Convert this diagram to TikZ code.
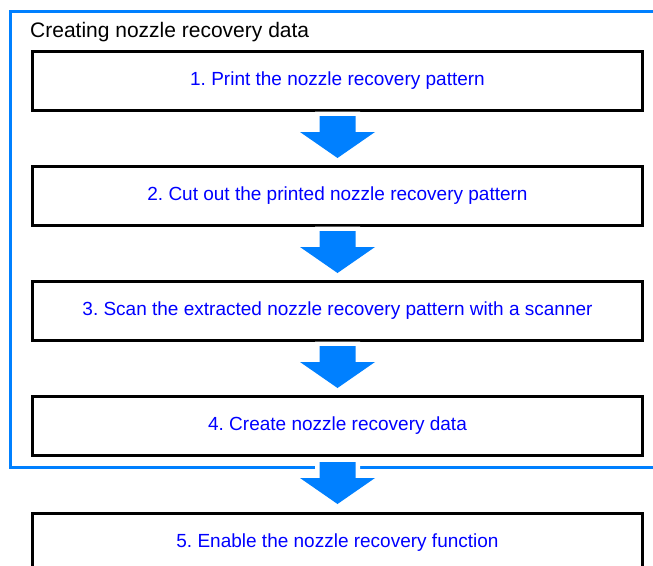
\documentclass[tikz,border=0pt]{standalone}
\usepackage{fontspec}
\setmainfont{Liberation Sans}
\usetikzlibrary{positioning,calc}
\definecolor{frameblue}{RGB}{0,128,255}
\definecolor{stepblue}{RGB}{0,0,255}
\frenchspacing

\tikzset{
  stepbox/.style={draw, line width=3pt, minimum width=610pt, minimum height=59pt,
    text=stepblue, font=\fontsize{19}{22}\selectfont},
  blockarrow/.style={fill=frameblue, preaction={draw=white, line width=9pt}},
}

% block arrow between two step boxes
\newcommand{\flowarrow}[2]{%
  \coordinate (mid) at ($(#1.south)!0.5!(#2.north)$);
  \path[blockarrow] ($(mid)+(-18,-22)$) -- ($(mid)+(18,-22)$) -- ($(mid)+(18,-6)$)
    -- ($(mid)+(37.5,-6)$) -- ($(mid)+(0,20)$) -- ($(mid)+(-37.5,-6)$)
    -- ($(mid)+(-18,-6)$) -- cycle;}

\begin{document}
\begin{tikzpicture}[x=1pt, y=-1pt]
    \useasboundingbox (0,0) rectangle (653,565);
    \clip (0,0) rectangle (653,565);

    % Frame
    \draw[frameblue, line width=3pt] (700,11) -| (10,467) -- (700,467);
    \node[anchor=base west, inner sep=0pt, font=\fontsize{21}{24}\selectfont] (title) at (30,37) {Creating nozzle recovery data};

    % Steps
    \node[stepbox, anchor=north west] (s1) at (31,49.5) {1. Print the nozzle recovery pattern};
    \node[stepbox, below=53pt of s1] (s2) {2. Cut out the printed nozzle recovery pattern};
    \node[stepbox, below=53pt of s2] (s3) {3. Scan the extracted nozzle recovery pattern with a scanner};
    \node[stepbox, below=53pt of s3] (s4) {4. Create nozzle recovery data};
    \node[stepbox, below=55pt of s4] (s5) {5. Enable the nozzle recovery function};

    % Arrows
    \flowarrow{s1}{s2}
    \flowarrow{s2}{s3}
    \flowarrow{s3}{s4}
    \flowarrow{s4}{s5}
\end{tikzpicture}
\end{document}
